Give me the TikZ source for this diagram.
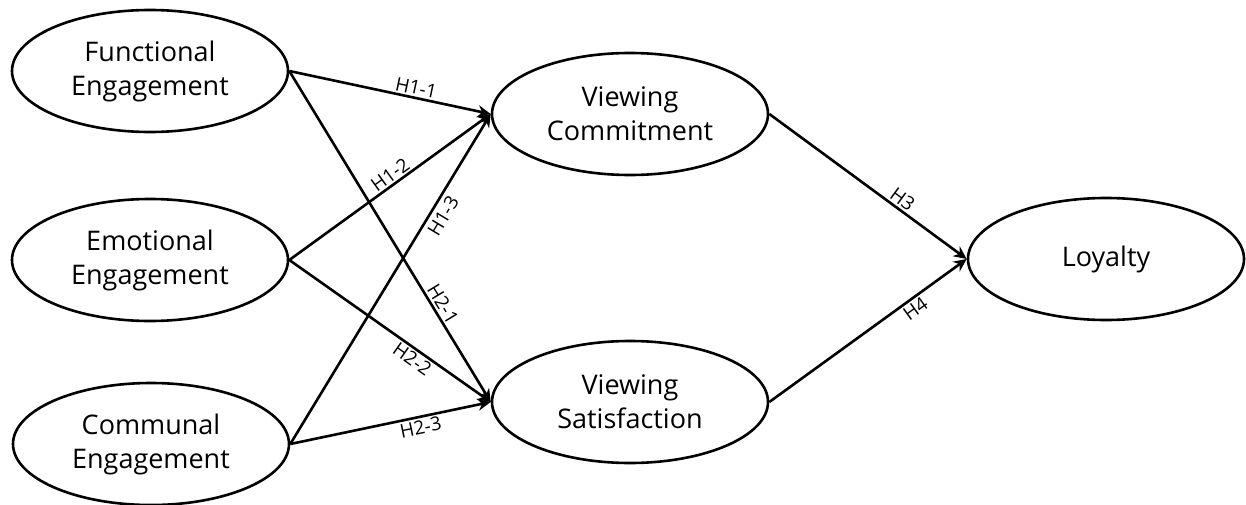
\documentclass[tikz,border=0pt]{standalone}
\usepackage{fontspec}
\setmainfont{Open Sans}
\usetikzlibrary{arrows.meta,shapes.geometric}
\begin{document}
\begin{tikzpicture}[x=1pt,y=-1pt,
  construct/.style={draw,line width=2.6pt,ellipse,minimum width=276pt,minimum height=122pt,inner sep=0pt,align=center,font=\fontsize{27}{34}\selectfont},
  link/.style={line width=2.6pt,-{Stealth[length=13pt,width=12pt]}},
  hyp/.style={font=\fontsize{19}{22}\selectfont,sloped,inner sep=2pt}]
\useasboundingbox (0,0) rectangle (1246,505);
\node[construct] (F) at (150,71) {Functional\\Engagement};
\node[construct] (E) at (150,260) {Emotional\\Engagement};
\node[construct] (C) at (151,444) {Communal\\Engagement};
\node[construct] (VC) at (630,114) {Viewing\\Commitment};
\node[construct] (VS) at (630,402) {Viewing\\Satisfaction};
\node[construct] (L) at (1106,259) {Loyalty};
\draw[link] (F.east) -- node[hyp,pos=0.62,above] {H1-1} (VC.west);
\draw[link] (E.east) -- node[hyp,pos=0.53,above] {H1-2} (VC.west);
\draw[link] (C.east) -- node[hyp,pos=0.71,below,inner sep=4pt] {H1-3} (VC.west);
\draw[link] (F.east) -- node[hyp,pos=0.72,above] {H2-1} (VS.west);
\draw[link] (E.east) -- node[hyp,pos=0.64,below] {H2-2} (VS.west);
\draw[link] (C.east) -- node[hyp,pos=0.64,below] {H2-3} (VS.west);
\draw[link] (VC.east) -- node[hyp,pos=0.645,above] {H3} (L.west);
\draw[link] (VS.east) -- node[hyp,pos=0.71,below] {H4} (L.west);
\end{tikzpicture}
\end{document}
